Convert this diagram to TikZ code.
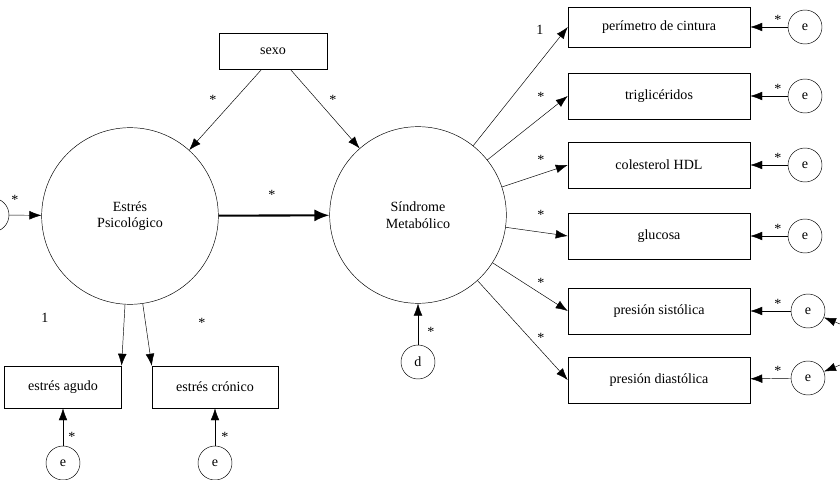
\documentclass[tikz,border=0pt]{standalone}
\usepackage{fontspec}
\setmainfont{Liberation Serif}
\usetikzlibrary{arrows.meta}
\begin{document}
\begin{tikzpicture}[x=0.03cm, y=-0.03cm,
        obs/.style={draw, rectangle, minimum width=5.46cm, minimum height=1.3cm, font=\fontsize{12}{14}\selectfont},
        lat/.style={draw, circle, minimum size=5.3cm, align=center, font=\fontsize{12}{14}\selectfont},
        err/.style={draw, circle, minimum size=1.02cm, inner sep=0pt, font=\fontsize{12}{14}\selectfont},
        star/.style={font=\fontsize{12}{14}\selectfont},
        arrow/.style={-{Latex[length=3.6mm,width=2.6mm]}, thin},
        bold/.style={-{Latex[length=4.5mm,width=3.6mm]}, line width=1.8pt}
    ]
        \useasboundingbox (0,0) rectangle (840,480);

        % Latent variables
        \node[lat] (estres) at (130,216) {Estrés\\Psicológico};
        \node[lat] (sm) at (418,215) {Síndrome\\Metabólico};
        \node[obs, minimum width=3.24cm, minimum height=1.08cm] (sexo) at (273,51) {sexo};

        % Indicators of estres
        \node[obs, minimum width=3.5cm, minimum height=1.26cm] (agudo) at (63,387) {estrés agudo};
        \node[obs, minimum width=3.78cm, minimum height=1.26cm] (cronico) at (215,387) {estrés crónico};
        \node[err] (ea) at (63,463) {e};
        \node[err] (ec) at (215,463) {e};
        \node[err] (e0) at (-8,215) {};
        \node[err] (d) at (418,362) {d};

        % Indicators of sindrome
        \node[obs, minimum height=1.2cm] (cint) at (659,27) {perímetro de cintura};
        \node[obs, minimum height=1.38cm] (trig) at (659,96) {triglicéridos};
        \node[obs, minimum height=1.38cm] (hdl) at (659,165) {colesterol HDL};
        \node[obs, minimum height=1.38cm] (gluc) at (659,236) {glucosa};
        \node[obs, minimum height=1.38cm] (sist) at (659,311) {presión sistólica};
        \node[obs, minimum height=1.38cm] (diast) at (659,380) {presión diastólica};
        \node[err] (e1) at (805,27) {e};
        \node[err] (e2) at (805,96) {e};
        \node[err] (e3) at (805,165) {e};
        \node[err] (e4) at (805,236) {e};
        \node[err] (e5) at (808,311) {e};
        \node[err] (e6) at (808,378) {e};
        \coordinate (c5) at (845,326);
        \coordinate (c6) at (845,363);

        % Arrows
        \draw[arrow] (sexo.south west) ++(43,0) -- (estres);
        \draw[arrow] (sexo.south east) ++(-37,0) -- (sm);
        \draw[bold] (estres) -- (sm);
        \draw[arrow] (e0) -- (estres);
        \draw[arrow] (estres) -- (agudo.north east);
        \draw[arrow] (estres) -- (cronico.north west);
        \draw[arrow] (ea) -- (agudo);
        \draw[arrow] (ec) -- (cronico);
        \draw[arrow] (d) -- (sm);
        \foreach \b in {cint,trig,hdl,gluc,sist,diast}
            \draw[arrow] (sm) -- (\b.west);
        \draw[arrow] (e1) -- (cint);
        \draw[arrow] (e2) -- (trig);
        \draw[arrow] (e3) -- (hdl);
        \draw[arrow] (e4) -- (gluc);
        \draw[arrow] (e5) -- (sist);
        \draw[arrow] (e6) -- (diast);
        \draw[arrow] (c5) -- (e5);
        \draw[arrow] (c6) -- (e6);

        % Labels
        \node[star] at (213,100) {*};
        \node[star] at (333,100) {*};
        \node[star] at (272,195) {*};
        \node[star] at (15,200) {*};
        \node[star] at (45,318) {1};
        \node[star] at (202,323) {*};
        \node[star] at (72,437) {*};
        \node[star] at (225,437) {*};
        \node[star] at (431,332) {*};
        \node[star] at (540,30) {1};
        \foreach \y in {97,160,215,283,338}
            \node[star] at (541,\y) {*};
        \foreach \y in {20,89,158,229}
            \node[star] at (778,\y) {*};
        \node[star] at (778,304) {*};
        \node[star] at (778,371) {*};
    \end{tikzpicture}
\end{document}
